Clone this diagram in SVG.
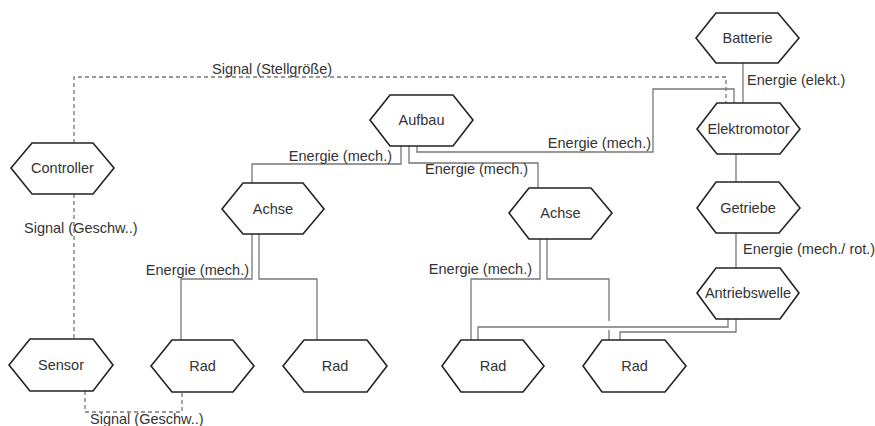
<svg xmlns="http://www.w3.org/2000/svg" width="875" height="426" viewBox="0 0 875 426">
<style>
.node polygon{fill:#fff;stroke:#222;stroke-width:1.6}
.node text{font-family:"Liberation Sans",Arial,sans-serif;font-size:14.5px;fill:#333;text-anchor:middle}
.conn path{fill:none;stroke:#777;stroke-width:1.3}
.conn path.dash{stroke-dasharray:4 3}
.lbl{font-family:"Liberation Sans",Arial,sans-serif;font-size:14.5px;fill:#333}
</style>
<rect width="875" height="426" fill="#fff"/>
<g id="connectors" class="conn">
<path class="dash" d="M74,143 V77 H726 V103"/>
<path class="dash" d="M74,194 V339"/>
<path class="dash" d="M85,391 V412 H182 V392"/>
<path d="M743,63 V103"/>
<path d="M736,154 V182"/>
<path d="M736,233 V268"/>
<path d="M401,146 V164 H252 V183"/>
<path d="M409,146 V163 H538 V188"/>
<path d="M417,146 V152 H653 V89 H734 V103"/>
<path d="M252,234 V279 H181 V340"/>
<path d="M259,234 V279 H317 V340"/>
<path d="M540,239 V279 H471 V340"/>
<path d="M547,239 V279 H609 V321 M609,330 V340"/>
<path d="M728,319 V327 H478 V340"/>
<path d="M736,319 V332 H620 V340"/>
</g>
<g id="labels">
<text class="lbl" x="212" y="74">Signal (Stellgröße)</text>
<text class="lbl" x="24" y="233">Signal (Geschw..)</text>
<text class="lbl" x="90" y="424">Signal (Geschw..)</text>
<text class="lbl" x="392" y="161" text-anchor="end">Energie (mech.)</text>
<text class="lbl" x="425" y="174">Energie (mech.)</text>
<text class="lbl" x="651" y="148" text-anchor="end">Energie (mech.)</text>
<text class="lbl" x="747" y="85">Energie (elekt.)</text>
<text class="lbl" x="743" y="254">Energie (mech./ rot.)</text>
<text class="lbl" x="249" y="275" text-anchor="end">Energie (mech.)</text>
<text class="lbl" x="532" y="274" text-anchor="end">Energie (mech.)</text>
</g>
<g id="Batterie" class="node"><polygon points="696,38 716,13 778,13 799,38 778,63 716,63"/><text x="747.5" y="43">Batterie</text></g>
<g id="Elektromotor" class="node"><polygon points="697,129 717,103 780,103 800,129 780,154 717,154"/><text x="748.5" y="134">Elektromotor</text></g>
<g id="Getriebe" class="node"><polygon points="697,208 716,182 779,182 800,208 779,233 716,233"/><text x="748" y="213">Getriebe</text></g>
<g id="Antriebswelle" class="node"><polygon points="697,293 716,268 780,268 799,293 780,319 716,319"/><text x="748" y="298">Antriebswelle</text></g>
<g id="Aufbau" class="node"><polygon points="370,120 390,95 453,95 473,120 453,146 390,146"/><text x="421.5" y="125">Aufbau</text></g>
<g id="Controller" class="node"><polygon points="11,168 32,143 93,143 114,168 93,194 32,194"/><text x="62.5" y="173">Controller</text></g>
<g id="Achse1" class="node"><polygon points="222,209 243,183 303,183 324,209 303,234 243,234"/><text x="273" y="214">Achse</text></g>
<g id="Achse2" class="node"><polygon points="509,213 529,188 591,188 612,213 591,239 529,239"/><text x="560.5" y="218">Achse</text></g>
<g id="Sensor" class="node"><polygon points="9,365 30,339 93,339 113,365 93,391 30,391"/><text x="61" y="370">Sensor</text></g>
<g id="Rad1" class="node"><polygon points="151,366 172,340 233,340 254,366 233,392 172,392"/><text x="202.5" y="371">Rad</text></g>
<g id="Rad2" class="node"><polygon points="283,366 304,340 367,340 387,366 367,392 304,392"/><text x="335" y="371">Rad</text></g>
<g id="Rad3" class="node"><polygon points="442,366 461,340 523,340 544,366 523,392 461,392"/><text x="493" y="371">Rad</text></g>
<g id="Rad4" class="node"><polygon points="583,366 602,340 665,340 686,366 665,392 602,392"/><text x="634.5" y="371">Rad</text></g>
</svg>
